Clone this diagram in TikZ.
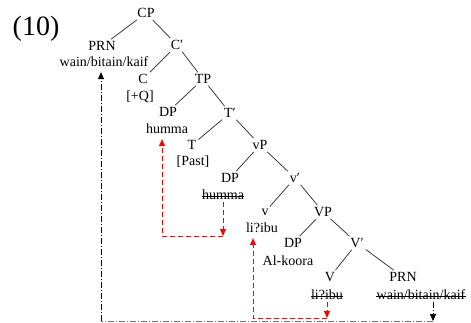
\documentclass[tikz,border=0pt]{standalone}
\usepackage{fontspec}
\setmainfont{Liberation Serif}
\usetikzlibrary{arrows.meta}
\begin{document}
\begin{tikzpicture}[x=1pt,y=-1pt,
  every node/.style={font=\fontsize{14}{16}\selectfont, inner sep=2pt},
  branch/.style={draw=black!85, line width=0.7pt},
  strikeline/.style={draw=black, line width=0.6pt},
  redarr/.style={draw=red, line width=1pt, dash pattern=on 5pt off 3pt},
  blkarr/.style={draw=black, line width=0.7pt, dash pattern=on 6pt off 2pt on 1pt off 2pt},
  grayline/.style={draw=black!55, line width=0.7pt, dash pattern=on 6pt off 2pt on 1pt off 2pt},
  tip/.style={-{Triangle[length=7pt,width=6pt]}}
]
\useasboundingbox (0,0) rectangle (471,322);
\node[font=\fontsize{28}{30}\selectfont] (ex) at (36,29) {(10)};
% categories
\node (CP) at (146,13) {CP};
\node (PRN1) at (102,46) {PRN};
\node (w1) at (104,62) {wain/bitain/kaif};
\node (C1) at (177,45) {C′};
\node (C) at (143,79) {C};
\node (Q) at (140,97) {[+Q]};
\node (TP) at (203,79) {TP};
\node (DP1) at (168,112) {DP};
\node (h1) at (167,129) {humma};
\node (T1) at (230,113) {T′};
\node (T) at (192,145) {T};
\node (past) at (193,162) {[Past]};
\node (vP) at (260,145) {vP};
\node (DP2) at (230,178) {DP};
\node (h2) at (223,195) {humma};
\node (v1) at (295,178) {v′};
\node (v) at (265,212) {v};
\node (l1) at (262,228) {li?ibu};
\node (VP) at (323,212) {VP};
\node (DP3) at (293,243) {DP};
\node (ak) at (288,261) {Al-koora};
\node (V1) at (357,243) {V′};
\node (V) at (330,277) {V};
\node (l2) at (327,295) {li?ibu};
\node (PRN2) at (403,277) {PRN};
\node (w2) at (421,295) {wain/bitain/kaif};
% strike-throughs
\draw[strikeline] ([shift={(2pt,3.5pt)}]h2.base west) -- ([shift={(-2pt,3.5pt)}]h2.base east);
\draw[strikeline] ([shift={(2pt,3.5pt)}]l2.base west) -- ([shift={(-2pt,3.5pt)}]l2.base east);
\draw[strikeline] ([shift={(2pt,3.5pt)}]w2.base west) -- ([shift={(-2pt,3.5pt)}]w2.base east);
% branches
\draw[branch] (CP) -- (PRN1);
\draw[branch] (CP) -- (C1);
\draw[branch] (C1) -- (C);
\draw[branch] (C1) -- (TP);
\draw[branch] (TP) -- (DP1);
\draw[branch] (TP) -- (T1);
\draw[branch] (T1) -- (T);
\draw[branch] (T1) -- (vP);
\draw[branch] (vP) -- (DP2);
\draw[branch] (vP) -- (v1);
\draw[branch] (v1) -- (v);
\draw[branch] (v1) -- (VP);
\draw[branch] (VP) -- (DP3);
\draw[branch] (VP) -- (V1);
\draw[branch] (V1) -- (V);
\draw[branch] (V1) -- (PRN2);
% movement arrows
\coordinate (ra) at (162,236);
\coordinate (rb) at (223,236);
\draw[redarr,tip] (h2.south -| rb) -- (rb);
\draw[redarr,tip] (rb) -- (ra) -- ([yshift=-3pt]h1.south -| ra);
\coordinate (sa) at (253,318);
\coordinate (sb) at (327,318);
\draw[redarr,tip] (l2.south -| sb) -- (sb);
\draw[redarr,tip] (sb) -- (sa) -- ([yshift=-3pt]l1.south -| sa);
\coordinate (ka) at (101,321);
\coordinate (kb) at (433,321);
\draw[blkarr,tip] (w2.south -| kb) -- (kb);
\draw[grayline] (kb) -- (ka);
\draw[blkarr,tip] (ka) -- ([yshift=-3pt]w1.south -| ka);
\end{tikzpicture}
\end{document}
